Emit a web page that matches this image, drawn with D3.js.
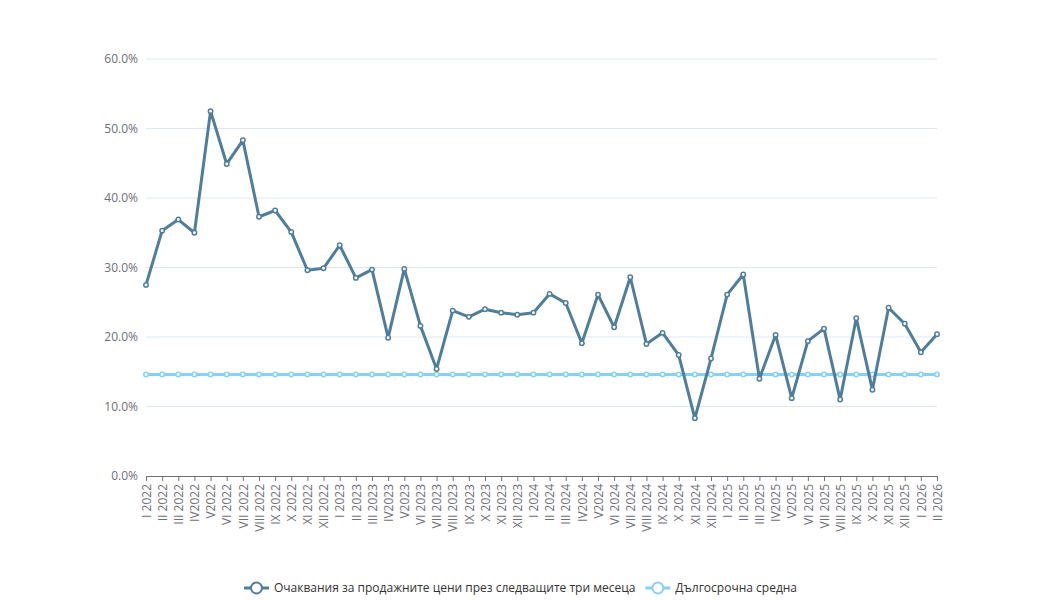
<!DOCTYPE html>
<html>
<head>
<meta charset="utf-8">
<script src="https://cdn.jsdelivr.net/npm/d3@7"></script>
<style>
  body { margin: 0; background: #fff; }
  svg { display: block; font-family: "Open Sans", "Noto Sans", sans-serif; }
</style>
</head>
<body>
<script>
// month labels, I 2022 .. II 2026
const months = ["I 2022","II 2022","III 2022","IV2022","V2022","VI 2022","VII 2022","VIII 2022","IX 2022","X 2022","XI 2022","XII 2022",
  "I 2023","II 2023","III 2023","IV2023","V2023","VI 2023","VII 2023","VIII 2023","IX 2023","X 2023","XI 2023","XII 2023",
  "I 2024","II 2024","III 2024","IV2024","V2024","VI 2024","VII 2024","VIII 2024","IX 2024","X 2024","XI 2024","XII 2024",
  "I 2025","II 2025","III 2025","IV2025","V2025","VI 2025","VII 2025","VIII 2025","IX 2025","X 2025","XI 2025","XII 2025",
  "I 2026","II 2026"]

const expectations = [27.5,35.3,36.9,35.0,52.5,44.9,48.3,37.3,38.2,35.1,29.6,29.9,
  33.2,28.5,29.7,19.9,29.8,21.6,15.4,23.8,22.9,24.0,23.5,23.2,
  23.5,26.2,24.9,19.1,26.1,21.4,28.6,19.0,20.6,17.4,8.3,16.9,
  26.1,29.0,14.0,20.3,11.2,19.4,21.2,11.0,22.7,12.4,24.2,21.9,
  17.8,20.4]

const longTermAvg = 14.6
const yTicks = [0, 10, 20, 30, 40, 50, 60]

const seriesNames = ["Очаквания за продажните цени през следващите три месеца", "Дългосрочна средна"]
const seriesColors = ["#4f7d9c", "#86d1f5"]

const width = 1041
const height = 600
const plotLeft = 146, plotRight = 937, plotTop = 59, plotBottom = 476

const svg = d3.select('body').append('svg')
  .attr('width', width)
  .attr('height', height)

const xScale = d3.scalePoint()
  .domain(months)
  .range([plotLeft, plotRight])

const yScale = d3.scaleLinear()
  .domain([0, 60])
  .range([plotBottom, plotTop])

// grid lines
svg.append('g')
  .selectAll('line')
  .data(yTicks.filter(d => d > 0))
  .enter().append('line')
  .attr('x1', plotLeft).attr('x2', plotRight)
  .attr('y1', d => yScale(d)).attr('y2', d => yScale(d))
  .attr('stroke', '#e0e6f1')

// y labels
svg.append('g')
  .selectAll('text')
  .data(yTicks)
  .enter().append('text')
  .attr('x', plotLeft - 8)
  .attr('y', d => yScale(d))
  .attr('dy', '0.35em')
  .attr('text-anchor', 'end')
  .attr('fill', '#6e7079')
  .attr('font-size', 12)
  .text(d => d.toFixed(1) + '%')

// x axis
const xAxis = d3.axisBottom(xScale).tickSize(5).tickPadding(4)
const gx = svg.append('g')
  .attr('transform', 'translate(0,' + plotBottom + ')')
  .call(xAxis)
gx.select('.domain').attr('stroke', '#6e7079')
gx.selectAll('.tick line').attr('stroke', '#6e7079')
gx.selectAll('.tick text')
  .attr('fill', '#6e7079')
  .attr('font-size', 12)
  .attr('font-family', '"Open Sans", "Noto Sans", sans-serif')
  .attr('transform', 'rotate(-90)')
  .attr('text-anchor', 'end')
  .attr('x', -8)
  .attr('y', 0)
  .attr('dy', '0.35em')

const line = d3.line()
  .x((d, i) => xScale(months[i]))
  .y(d => yScale(d))

function drawSeries(values, color) {
  svg.append('path')
    .datum(values)
    .attr('fill', 'none')
    .attr('stroke', color)
    .attr('stroke-width', 3)
    .attr('stroke-linejoin', 'round')
    .attr('d', line)
  svg.append('g')
    .selectAll('circle')
    .data(values)
    .enter().append('circle')
    .attr('cx', (d, i) => xScale(months[i]))
    .attr('cy', d => yScale(d))
    .attr('r', 2.2)
    .attr('fill', '#fff')
    .attr('stroke', color)
    .attr('stroke-width', 1.5)
}

drawSeries(months.map(() => longTermAvg), seriesColors[1])
drawSeries(expectations, seriesColors[0])

// legend
const legend = svg.append('g').attr('transform', 'translate(0,588)')
const items = legend.selectAll('g')
  .data(seriesNames)
  .enter().append('g')

items.append('line')
  .attr('x1', 0).attr('x2', 25)
  .attr('stroke', (d, i) => seriesColors[i])
  .attr('stroke-width', 3)
items.append('circle')
  .attr('cx', 12.5)
  .attr('r', 5.5)
  .attr('fill', '#fff')
  .attr('stroke', (d, i) => seriesColors[i])
  .attr('stroke-width', 2)
items.append('text')
  .attr('x', 30)
  .attr('dy', '0.35em')
  .attr('fill', '#333')
  .attr('font-size', 12)
  .text(d => d)

// lay out legend items centered
let widths = []
items.each(function () { widths.push(this.getBBox().width) })
const gap = 10
const total = d3.sum(widths) + gap * (widths.length - 1)
let xPos = (width - total) / 2
items.attr('transform', (d, i) => {
  const t = 'translate(' + xPos + ',0)'
  xPos += widths[i] + gap
  return t
})
</script>
</body>
</html>
